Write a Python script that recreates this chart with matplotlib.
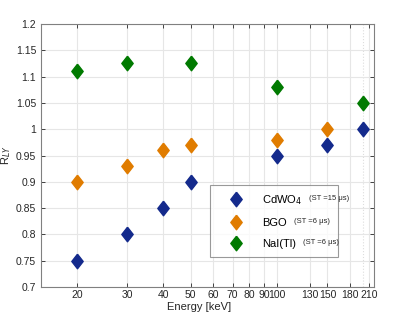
import matplotlib
matplotlib.use("Agg")
import matplotlib.pyplot as plt
import numpy as np

plt.rcParams['font.family'] = ['Liberation Sans', 'DejaVu Sans']

# data
e_cdwo4 = [20, 30, 40, 50, 100, 150, 200]
r_cdwo4 = [0.75, 0.80, 0.85, 0.90, 0.95, 0.97, 1.00]
e_bgo = [20, 30, 40, 50, 100, 150]
r_bgo = [0.90, 0.93, 0.96, 0.97, 0.98, 1.00]
e_nai = [20, 30, 50, 100, 200]
r_nai = [1.11, 1.125, 1.125, 1.08, 1.05]

xticks = [20, 30, 40, 50, 60, 70, 80, 90, 100, 130, 150, 180, 210]
yticks = np.round(np.arange(0.7, 1.2001, 0.05), 2)

diamond = [(0, 1), (0.78, 0), (0, -1), (-0.78, 0), (0, 1)]

fig = plt.figure(figsize=(4.15, 3.13), dpi=100)
ax = fig.add_axes([41/415, 1 - 287/313, (374-41)/415, (287-24)/313])

ax.set_xscale('log')
ax.grid(True, which='major', color='#e6e6e6', linewidth=0.8)
ax.axvline(200, color='#dddddd', linestyle=':', linewidth=0.8, zorder=0)
ax.set_axisbelow(True)

ms = 10.5
ax.plot(e_cdwo4, r_cdwo4, linestyle='none', marker=diamond, ms=ms,
        color='#142a8c', label='CdWO$_4$')
ax.plot(e_bgo, r_bgo, linestyle='none', marker=diamond, ms=ms,
        color='#e07c00', label='BGO')
ax.plot(e_nai, r_nai, linestyle='none', marker=diamond, ms=ms,
        color='#007a00', label='NaI(Tl)')

ax.set_xlim(15.0, 218)
ax.set_ylim(0.7, 1.2)
ax.set_xticks(xticks)
ax.set_xticklabels([str(t) for t in xticks])
ax.minorticks_off()
ax.set_yticks(yticks)
ax.set_yticklabels(['%g' % t for t in yticks])

ax.tick_params(direction='in', length=3, labelsize=7.5, colors='#262626',
               top=True, right=True, width=0.6)
ax.tick_params(axis='x', pad=2.5)
for s in ax.spines.values():
    s.set_color('#808080')
    s.set_linewidth(0.8)

ax.set_xlabel('Energy [keV]', fontsize=8, color='#262626')
ax.xaxis.set_label_coords(0.475, -0.058)
ax.set_ylabel('R$_{LY}$', fontsize=8, color='#262626', labelpad=2)

lx0 = (210 - 41) / 333
lw = (338 - 210) / 333
ltop = 1 - (185 - 24) / 263
leg = ax.legend(loc='upper left', bbox_to_anchor=(lx0, ltop - 0.3, lw, 0.3),
                mode='expand', frameon=True, fancybox=False, edgecolor='#808080',
                fontsize=8, labelspacing=1.0, handletextpad=0.8,
                borderpad=0.7, borderaxespad=0, handlelength=3.2)
leg.get_frame().set_linewidth(0.8)

notes = ['(ST =15 \u03bcs)', '(ST =6 \u03bcs)', '(ST =6 \u03bcs)']
fig.canvas.draw()
for txt, note in zip(leg.get_texts(), notes):
    bb = txt.get_window_extent()
    x0, y0 = fig.transFigure.inverted().transform((bb.x1 + 7, bb.y0 + bb.height * 0.62))
    fig.text(x0, y0, note, fontsize=5.5, color='#262626', va='center')

fig.savefig('out.png', dpi=100)
